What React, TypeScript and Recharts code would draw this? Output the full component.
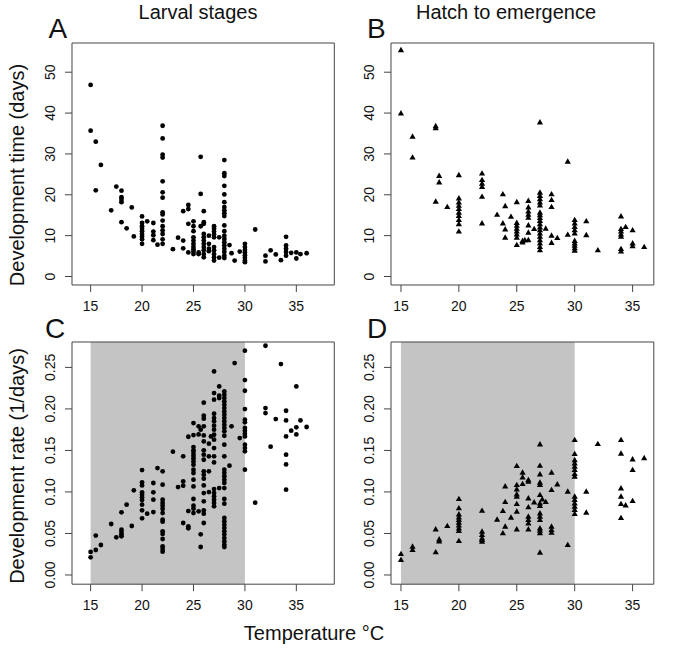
import React from "react";
import { ScatterChart, Scatter, XAxis, YAxis, ReferenceArea } from "recharts";

// [temperature, values observed at that temperature]
type Group = [number, number[]];

const FONT = "'Liberation Sans', Arial, Helvetica, sans-serif";
const AX = "#444";

const TEMP_TICKS = [15, 20, 25, 30, 35];
const TIME_TICKS = [0, 10, 20, 30, 40, 50];
const RATE_TICKS = [0, 0.05, 0.1, 0.15, 0.2, 0.25];

const larvalTime: Group[] = [
  [15, [46.9, 35.7]], [15.5, [33.0, 21.1]], [16, [27.3]], [17, [16.2]], [17.5, [22.0]],
  [18, [21.0, 19.4, 18.8, 18.2, 13.3]], [18.5, [11.8]], [19, [16.9]], [19.2, [9.8]],
  [20, [14.7, 13.1, 12.3, 11.7, 11.1, 10.4, 9.8, 9.1, 8.0]], [20.5, [13.5]],
  [21.1, [13.1, 11.0, 10.1, 8.9]], [21.5, [7.8]],
  [22, [36.9, 33.8, 29.8, 29.1, 23.3, 20.6, 19.3, 15.7, 15.2, 13.7, 12.3, 11.3, 10.4, 9.1, 8.0]],
  [23, [6.7]], [23.5, [9.5]], [24, [16.0, 8.8, 6.9]], [24.5, [17.5, 16.5, 12.9, 5.9]],
  [25, [13.5, 12.3, 11.1, 9.6, 8.8, 8.0, 7.3, 6.7, 6.1, 5.5]], [25.5, [5.9, 5.5]],
  [25.7, [29.3, 20.2, 12.3]],
  [26, [16.0, 13.3, 12.9, 10.4, 9.6, 8.8, 8.0, 7.2, 6.4, 5.5, 4.7]],
  [26.5, [10.0, 8.0, 6.8, 6.2]],
  [27, [12.3, 11.7, 11.0, 10.3, 9.6, 7.2, 6.4, 5.5, 4.7, 3.9]], [27.5, [9.6, 4.6]],
  [28, [28.5, 25.3, 24.6, 22.2, 20.1, 18.2, 17.0, 16.2, 15.5, 14.8, 12.5, 11.1, 10.0, 9.2, 8.4, 7.6, 6.8, 6.0, 5.1, 4.5]],
  [28.5, [7.7]], [28.7, [5.7]], [29, [3.9]], [29.5, [6.1]],
  [30, [8.0, 7.2, 6.5, 5.9, 5.2, 4.6, 3.9, 3.5]], [31, [11.5]], [32, [5.1, 3.7]],
  [32.5, [6.4]], [33, [5.4]], [33.5, [4.0]], [34, [9.7, 7.6, 6.8, 6.0, 5.1]],
  [34.5, [5.8]], [35, [5.9, 4.4]], [35.4, [5.5]], [36, [5.7]],
];

const hatchTime: Group[] = [
  [15, [55.5, 40.0]], [16, [34.3, 29.2]], [18, [36.9, 36.4, 18.4]], [18.3, [24.7, 23.1]],
  [19, [17.1]], [20, [24.9, 19.2, 18.2, 17.4, 16.6, 15.7, 14.9, 13.9, 12.9, 11.1]],
  [22, [25.3, 23.7, 22.8, 22.0, 19.6, 13.1]], [23.3, [15.2]], [23.8, [20.2, 13.1]],
  [24, [17.3, 11.6, 9.6]], [24.5, [14.7]],
  [25, [18.3, 13.2, 12.5, 11.8, 11.1, 10.4, 9.6, 7.8]], [25.5, [8.8, 8.4]], [25.7, [9.0]],
  [26, [18.6, 17.0, 16.0, 15.2, 14.5, 12.6, 10.8, 9.0]], [26.5, [11.7]],
  [27, [37.8, 20.6, 19.8, 19.0, 18.2, 17.5, 15.7, 15.1, 14.4, 13.7, 12.9, 12.1, 11.4, 10.6, 9.8, 9.0, 8.2, 7.3, 6.5]],
  [27.5, [11.8]], [28, [20.2, 18.8, 17.1, 10.1, 8.3]], [28.5, [9.5]], [29.4, [28.2, 10.3]],
  [30, [13.9, 13.1, 12.2, 11.4, 10.6, 8.8, 8.2, 7.6, 7.0, 6.4]], [31, [13.6, 10.2]],
  [32, [6.5]], [34, [14.8, 11.7, 11.1, 10.4, 9.8, 6.8, 6.2]], [34.4, [12.2]],
  [35, [11.4, 8.2, 7.5]], [36, [7.3]],
];

const larvalRate: Group[] = [
  [15, [0.0277, 0.0213]], [15.5, [0.0474, 0.0301]], [16, [0.0361]], [17, [0.0614]],
  [17.5, [0.0453]], [18, [0.0754, 0.0546, 0.0518, 0.049, 0.0465]], [18.5, [0.0847]],
  [19, [0.059]], [19.2, [0.1019]],
  [20, [0.1264, 0.1116, 0.1079, 0.0995, 0.0967, 0.0935, 0.0903, 0.0847, 0.0779, 0.0682]],
  [20.5, [0.0738]], [21.1, [0.1108, 0.0995, 0.0907, 0.0758]], [21.5, [0.1288]],
  [22, [0.1248, 0.1087, 0.0907, 0.0867, 0.0835, 0.0795, 0.0746, 0.0666, 0.0642, 0.0526, 0.0494, 0.0433, 0.0345, 0.0313, 0.0281]],
  [23, [0.1485]], [23.5, [0.1059]], [24, [0.1429, 0.1128, 0.1075, 0.0626]],
  [24.5, [0.1665, 0.077, 0.0586, 0.0562]],
  [25, [0.183, 0.1685, 0.1541, 0.1501, 0.1469, 0.1437, 0.1404, 0.1368, 0.1328, 0.1268, 0.1228, 0.1148, 0.1067, 0.0915, 0.0835, 0.0799, 0.0746]],
  [25.5, [0.179, 0.1693, 0.0766]], [25.7, [0.175, 0.049, 0.0337]],
  [26, [0.2075, 0.1918, 0.1882, 0.179, 0.1681, 0.1609, 0.1501, 0.1449, 0.1388, 0.1248, 0.1208, 0.116, 0.1079, 0.0987, 0.0887, 0.0779, 0.0738, 0.0626]],
  [26.5, [0.1581, 0.1429, 0.1248, 0.0999]], [26.7, [0.1669]],
  [27, [0.2452, 0.2191, 0.2111, 0.1942, 0.189, 0.185, 0.1798, 0.175, 0.1689, 0.1629, 0.1529, 0.1429, 0.1356, 0.1035, 0.0987, 0.0947, 0.0907, 0.0867, 0.0827]],
  [27.5, [0.2271, 0.2159, 0.2131, 0.1047]],
  [28, [0.2211, 0.2171, 0.2131, 0.2091, 0.2051, 0.201, 0.197, 0.193, 0.189, 0.185, 0.181, 0.177, 0.173, 0.1677, 0.1569, 0.1429, 0.1268, 0.1228, 0.1188, 0.1148, 0.1108, 0.1047, 0.0915, 0.0859, 0.0686, 0.0646, 0.0606, 0.0566, 0.0526, 0.0486, 0.0445, 0.0405, 0.0365, 0.0337]],
  [28.5, [0.1316]], [28.7, [0.179]], [29, [0.2552]], [29.5, [0.1649]],
  [30, [0.2701, 0.2348, 0.2219, 0.1998, 0.187, 0.1838, 0.177, 0.1738, 0.1701, 0.1669, 0.1569, 0.1529, 0.1489, 0.1268]],
  [31, [0.0871]], [32, [0.2761, 0.201, 0.195]], [32.5, [0.1545]], [33, [0.1878]],
  [33.5, [0.254]], [34, [0.1978, 0.1862, 0.1669, 0.1449, 0.1332, 0.1027]], [34.5, [0.1738]],
  [35, [0.2271, 0.1778, 0.1693]], [35.4, [0.1862]], [36, [0.1782]],
];

const hatchRate: Group[] = [
  [15, [0.0257, 0.0185]], [16, [0.0345, 0.0305]], [18, [0.0554, 0.0277]],
  [18.3, [0.0433, 0.0409]], [19, [0.0594]],
  [20, [0.0919, 0.0807, 0.0734, 0.0698, 0.0666, 0.0634, 0.0602, 0.0566, 0.0534, 0.0413]],
  [22, [0.0778, 0.0526, 0.0486, 0.0445, 0.0425, 0.0405]], [23.3, [0.067]],
  [23.8, [0.0774, 0.0506]], [24, [0.1071, 0.0883, 0.0586]], [24.5, [0.0694]],
  [25, [0.1316, 0.1087, 0.1035, 0.0975, 0.0947, 0.0859, 0.0766, 0.0554]],
  [25.5, [0.1236, 0.118, 0.11]],
  [26, [0.1148, 0.1128, 0.0927, 0.0819, 0.0706, 0.0666, 0.0626, 0.0554]], [26.5, [0.0879]],
  [27, [0.1577, 0.132, 0.1216, 0.1116, 0.1087, 0.0967, 0.0867, 0.0835, 0.0746, 0.0706, 0.0666, 0.0566, 0.0538, 0.0506, 0.0273]],
  [27.2, [0.0915]], [27.5, [0.0883]], [28, [0.1236, 0.1027, 0.0586, 0.0546, 0.0514]],
  [28.5, [0.1095]], [29.4, [0.1007, 0.0365]],
  [30, [0.1629, 0.1461, 0.1388, 0.1348, 0.1308, 0.1268, 0.122, 0.1188, 0.0947, 0.0907, 0.0867, 0.0827, 0.0787, 0.0738]],
  [31, [0.1007, 0.0754]], [32, [0.1581]],
  [34, [0.1629, 0.1465, 0.1047, 0.0947, 0.0859, 0.069]], [34.4, [0.0843]],
  [35, [0.1396, 0.1268, 0.0895]], [36, [0.1412]],
];

function flatten(groups: Group[]) {
  return groups.flatMap(([t, vs]) => vs.map(v => ({ x: t, y: v })));
}

const Dot = (p: any) => <circle cx={p.cx} cy={p.cy} r={2.4} fill="#000" />;
const Tri = (p: any) => (
  <polygon
    points={`${p.cx - 3.1},${p.cy + 2.4} ${p.cx + 3.1},${p.cy + 2.4} ${p.cx},${p.cy - 3.0}`}
    fill="#000"
  />
);

const XTick = (p: any) => (
  <text x={p.x} y={p.y + 17} textAnchor="middle" fontSize={14} fontFamily={FONT} fill="#111">
    {p.payload.value}
  </text>
);

interface Box { left: number; top: number; right: number; bottom: number }

interface PanelProps {
  data: Group[];
  box: Box;
  xDomain: [number, number];
  yDomain: [number, number];
  yTicks: number[];
  yFmt: (v: number) => string;
  marker: "circle" | "triangle";
  shade?: boolean;
}

function Panel({ data, box, xDomain, yDomain, yTicks, yFmt, marker, shade }: PanelProps) {
  const PAD_L = 60, PAD_T = 10, PAD_R = 10, PAD_B = 40;
  const w = box.right - box.left;
  const h = box.bottom - box.top;
  const YTick = (p: any) => {
    const bx = p.x - 7.7;
    return (
      <text x={bx} y={p.y} transform={`rotate(-90, ${bx}, ${p.y})`} textAnchor="middle"
        fontSize={14} fontFamily={FONT} fill="#111">
        {yFmt(p.payload.value)}
      </text>
    );
  };
  return (
    <div style={{ position: "absolute", left: box.left - PAD_L, top: box.top - PAD_T }}>
      <ScatterChart width={w + PAD_L + PAD_R} height={h + PAD_T + PAD_B}
        margin={{ top: PAD_T, right: PAD_R, bottom: 0, left: 0 }}>
        <XAxis type="number" dataKey="x" domain={xDomain} ticks={TEMP_TICKS} allowDataOverflow
          height={PAD_B} axisLine={false} tickLine={{ stroke: AX }} tickSize={7} tick={XTick} />
        <YAxis type="number" dataKey="y" domain={yDomain} ticks={yTicks} allowDataOverflow
          width={PAD_L} axisLine={false} tickLine={{ stroke: AX }} tickSize={7} tick={YTick} />
        {shade && (
          <ReferenceArea x1={15} x2={30} y1={yDomain[0]} y2={yDomain[1]}
            fill="#c4c4c4" fillOpacity={1} stroke="none" />
        )}
        <ReferenceArea x1={xDomain[0]} x2={xDomain[1]} y1={yDomain[0]} y2={yDomain[1]}
          fill="none" stroke={AX} strokeWidth={1} />
        <Scatter data={flatten(data)} isAnimationActive={false}
          shape={marker === "circle" ? Dot : Tri} />
      </ScatterChart>
    </div>
  );
}

const X_LEFT: [number, number] = [13.19, 38.69];
const X_RIGHT: [number, number] = [14.14, 36.83];
const Y_TIME: [number, number] = [-2.08, 57.15];
const Y_RATE: [number, number] = [-0.0111, 0.2806];

const fmtTime = (v: number) => String(v);
const fmtRate = (v: number) => v.toFixed(2);

export default function App() {
  return (
    <div style={{ position: "absolute", left: 0, top: 0, width: 685, height: 656, background: "#fff" }}>
      <Panel data={larvalTime} box={{ left: 71.7, top: 42.5, right: 334, bottom: 284.5 }}
        xDomain={X_LEFT} yDomain={Y_TIME} yTicks={TIME_TICKS} yFmt={fmtTime} marker="circle" />
      <Panel data={hatchTime} box={{ left: 390.7, top: 42.5, right: 653.5, bottom: 284.5 }}
        xDomain={X_RIGHT} yDomain={Y_TIME} yTicks={TIME_TICKS} yFmt={fmtTime} marker="triangle" />
      <Panel data={larvalRate} box={{ left: 71.7, top: 342.3, right: 334, bottom: 584.5 }}
        xDomain={X_LEFT} yDomain={Y_RATE} yTicks={RATE_TICKS} yFmt={fmtRate} marker="circle" shade />
      <Panel data={hatchRate} box={{ left: 390.7, top: 342.3, right: 653.5, bottom: 584.5 }}
        xDomain={X_RIGHT} yDomain={Y_RATE} yTicks={RATE_TICKS} yFmt={fmtRate} marker="triangle" shade />

      <svg width={685} height={656} style={{ position: "absolute", left: 0, top: 0, pointerEvents: "none" }}
        fontFamily={FONT} fill="#111">
        <text x={198} y={18.5} textAnchor="middle" fontSize={20}>Larval stages</text>
        <text x={506} y={18.5} textAnchor="middle" fontSize={20}>Hatch to emergence</text>
        <text x={48.6} y={38} fontSize={28}>A</text>
        <text x={367} y={38} fontSize={28}>B</text>
        <text x={45} y={338} fontSize={28}>C</text>
        <text x={367} y={338} fontSize={28}>D</text>
        <text x={23.5} y={175} transform="rotate(-90, 23.5, 175)" textAnchor="middle" fontSize={20}>
          Development time (days)
        </text>
        <text x={23.5} y={466} transform="rotate(-90, 23.5, 466)" textAnchor="middle" fontSize={20}>
          Development rate (1/days)
        </text>
        <text x={314} y={640} textAnchor="middle" fontSize={20}>Temperature °C</text>
      </svg>
    </div>
  );
}
